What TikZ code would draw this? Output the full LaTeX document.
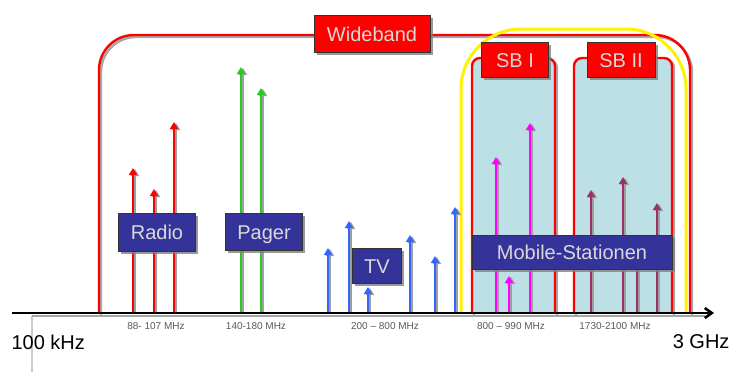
\documentclass[tikz,border=0pt]{standalone}
\usepackage{fontspec}
\setmainfont{Liberation Sans}
\usetikzlibrary{arrows.meta,shadows}
\definecolor{boxblue}{HTML}{333399}
\definecolor{sbblue}{HTML}{BDE0E6}
\definecolor{gsmpurple}{HTML}{993366}
\definecolor{tvblue}{HTML}{3366FF}
\definecolor{pagergreen}{HTML}{22CC22}
\definecolor{mobpink}{HTML}{FF00FF}

\begin{document}
\begin{tikzpicture}[x=1pt, y=-1pt,
  sig/.style={line width=2.6pt, -{Triangle[width=8pt,length=7pt]}},
  sigshade/.style={sig, gray!75, xshift=2pt, yshift=-1pt},
  band/.style={draw=red, line width=2.4pt, rounded corners=#1},
  bandshade/.style={draw=gray!70, line width=2.4pt, rounded corners=#1, xshift=2pt, yshift=-2pt},
  tag/.style={draw=black!80, fill=#1, text=white!85!black, inner sep=0pt,
    font=\fontsize{20}{20}\selectfont, text height=15pt, text depth=0.6pt,
    drop shadow={shadow xshift=2.5pt, shadow yshift=-2.5pt, fill=gray, opacity=0.8}},
  freq/.style={text=black!65, font=\fontsize{10}{10}\selectfont}]

\useasboundingbox (0,0) rectangle (731,372);

% -------- Bands -----------
\draw [bandshade=35] (99,313) -- (99,35) -- (690,35) -- (690,313);
\draw [band=35] (99,313) -- (99,35) -- (690,35) -- (690,313);
\draw [bandshade=8] (472,313) -- (472,58) -- (555,58) -- (555,313);
\draw [band=8, fill=sbblue] (472,313) -- (472,58) -- (555,58) -- (555,313);
\draw [bandshade=8] (574,313) -- (574,58) -- (672,58) -- (672,313);
\draw [band=8, fill=sbblue] (574,313) -- (574,58) -- (672,58) -- (672,313);
\draw [yellow, line width=3pt, rounded corners=60] (461,313) -- (461,29) -- (686,29) -- (686,313);

% -------- Signals -----------
\foreach \x/\y in {133/168, 174/122} {
  \draw [sigshade] (\x,313) -- (\x,\y);
  \draw [sig, red] (\x,313) -- (\x,\y);
}
\draw [sigshade, line width=1.6pt] (154,313) -- (154,189);
\draw [sig, red, line width=1.6pt] (154,313) -- (154,189);
\foreach \x/\y in {241/67, 261/88} {
  \draw [sigshade] (\x,313) -- (\x,\y);
  \draw [sig, pagergreen] (\x,313) -- (\x,\y);
}
\foreach \x/\y in {328/248, 349/221, 368/287, 410/235, 435/256, 455/207} {
  \draw [sigshade] (\x,313) -- (\x,\y);
  \draw [sig, tvblue] (\x,313) -- (\x,\y);
}
\foreach \x/\y in {496/157, 509/276, 530/123} {
  \draw [sigshade] (\x,313) -- (\x,\y);
  \draw [sig, mobpink] (\x,313) -- (\x,\y);
}
\foreach \x/\y in {591/190, 623/177, 637/245, 657/203} {
  \draw [sigshade] (\x,313) -- (\x,\y);
  \draw [sig, gsmpurple] (\x,313) -- (\x,\y);
}

% -------- Labels -----------
\node [tag=red, minimum width=116, minimum height=37] (wide) at (372,34) {Wideband};
\node [tag=red, minimum width=67, minimum height=35] (sb1) at (515,60) {SB I};
\node [tag=red, minimum width=68, minimum height=35] (sb2) at (621,60) {SB II};

\node [tag=boxblue, minimum width=77, minimum height=38] (radio) at (157,232) {Radio};
\node [tag=boxblue, minimum width=77, minimum height=37] (pager) at (264,232) {Pager};
\node [tag=boxblue, minimum width=49, minimum height=35] (tv) at (377,266) {TV};
\node [tag=boxblue, minimum width=200, minimum height=34] (mobile) at (572,252) {Mobile-Stationen};

% -------- Axis -----------
\draw [gray!40, line width=1.5pt] (32,316) -- (32,372);
\draw [gray!70, line width=2pt] (32,316) -- (705,316);
\draw [black, line width=2.6pt, -{Straight Barb[length=7pt,width=10pt]}] (12,313) -- (714,313);

\node [font=\fontsize{20}{20}\selectfont, anchor=west] (low) at (8,342) {100 kHz};
\node [font=\fontsize{20}{20}\selectfont, anchor=east] (high) at (733,342) {3 GHz};

\node [freq] (fradio) at (156,326) {88- 107 MHz};
\node [freq] (fpager) at (256,326) {140-180 MHz};
\node [freq] (ftv) at (385,326) {200 -- 800 MHz};
\node [freq] (fsb1) at (511,326) {800 -- 990 MHz};
\node [freq] (fsb2) at (615,326) {1730-2100 MHz};
\end{tikzpicture}
\end{document}
